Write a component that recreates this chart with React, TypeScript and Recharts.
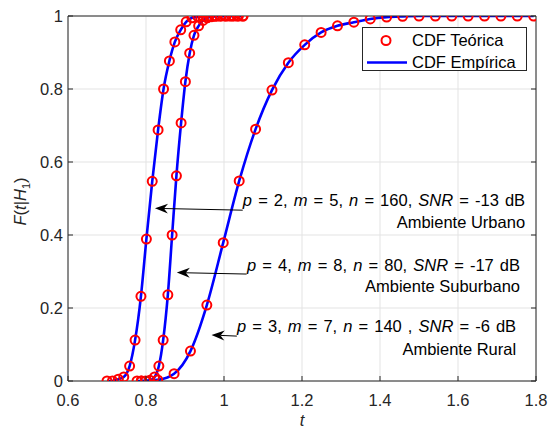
import React from 'react'
import {
  ComposedChart,
  Line,
  Scatter,
  XAxis,
  YAxis,
  CartesianGrid,
  ReferenceLine,
  ReferenceDot,
} from 'recharts'

const FONT = '"Liberation Sans", Arial, Helvetica, sans-serif'
const AXIS = '#262626'
const FS = 16.5

const xTicks = [0.6, 0.8, 1.0, 1.2, 1.4, 1.6, 1.8]
const yTicks = [0, 0.2, 0.4, 0.6, 0.8, 1]

// Ambiente Urbano: p = 2, m = 5, n = 160, SNR = -13 dB
const tUrbano = [0.700, 0.714, 0.729, 0.743, 0.758, 0.772, 0.787, 0.801, 0.816, 0.831, 0.845, 0.860, 0.874, 0.889, 0.903, 0.918, 0.933, 0.947, 0.962, 0.976, 0.991, 1.005, 1.020, 1.034, 1.049]
const fUrbano = [0, 0, 0.005, 0.011, 0.041, 0.112, 0.232, 0.389, 0.547, 0.688, 0.800, 0.877, 0.929, 0.962, 0.984, 0.995, 0.998, 0.999, 1, 1, 1, 1, 1, 1, 1]

// Ambiente Suburbano: p = 4, m = 8, n = 80, SNR = -17 dB
const tSuburbano = [0.777, 0.788, 0.799, 0.810, 0.822, 0.833, 0.844, 0.856, 0.867, 0.878, 0.890, 0.901, 0.912, 0.923, 0.935, 0.946, 0.957, 0.969, 0.980, 0.991, 1.003, 1.014, 1.025, 1.037, 1.048]
const fSuburbano = [0, 0, 0, 0.002, 0.011, 0.041, 0.112, 0.236, 0.400, 0.562, 0.707, 0.820, 0.898, 0.947, 0.973, 0.988, 0.995, 0.998, 0.999, 1, 1, 1, 1, 1, 1]

// Ambiente Rural: p = 3, m = 7, n = 140, SNR = -6 dB
const tRural = [0.788, 0.830, 0.872, 0.914, 0.956, 0.998, 1.039, 1.081, 1.123, 1.165, 1.207, 1.249, 1.291, 1.333, 1.375, 1.417, 1.458, 1.500, 1.542, 1.584, 1.626, 1.668, 1.710, 1.752, 1.794]
const fRural = [0, 0.003, 0.020, 0.082, 0.208, 0.379, 0.548, 0.690, 0.797, 0.872, 0.921, 0.955, 0.973, 0.983, 0.992, 0.997, 0.999, 1, 1, 1, 1, 1, 1, 1, 1]

const toPoints = (ts: number[], fs: number[]) => ts.map((t, i) => ({ t, f: fs[i] }))
const curves = [
  toPoints(tUrbano, fUrbano),
  toPoints(tSuburbano, fSuburbano),
  toPoints(tRural, fRural),
]

// annotations: arrow tail -> head, text anchored at its right edge
const arrows = [
  { from: { x: 1.048, y: 0.468 }, to: { x: 0.823, y: 0.473 } },
  { from: { x: 1.058, y: 0.293 }, to: { x: 0.879, y: 0.297 } },
  { from: { x: 1.033, y: 0.123 }, to: { x: 0.968, y: 0.126 } },
]
const notes = [
  { x: 1.772, y: 0.496, p: '2', m: '5', n: '160', snr: '-13', env: 'Ambiente Urbano', y2: 0.436 },
  { x: 1.759, y: 0.318, p: '4', m: '8', n: '80', snr: '-17', env: 'Ambiente Suburbano', y2: 0.259 },
  { x: 1.749, y: 0.149, p: '3', m: '7', n: '140 ', snr: '-6', env: 'Ambiente Rural', y2: 0.088 },
]

const BottomTick = (props: any) => {
  const { x, y, payload } = props
  return (
    <g>
      <line x1={x} y1={y} x2={x} y2={y - 5} stroke={AXIS} />
      <text x={x} y={y + 19} dy="0.35em" textAnchor="middle" fill={AXIS} fontSize={FS} fontFamily={FONT}>
        {payload.value}
      </text>
    </g>
  )
}

const LeftTick = (props: any) => {
  const { x, y, payload } = props
  return (
    <g>
      <line x1={x} y1={y} x2={x + 5} y2={y} stroke={AXIS} />
      <text x={x - 5} y={y} dy="0.35em" textAnchor="end" fill={AXIS} fontSize={FS} fontFamily={FONT}>
        {payload.value}
      </text>
    </g>
  )
}

const TopTick = (props: any) => {
  const { x, y } = props
  return <line x1={x} y1={y} x2={x} y2={y + 5} stroke={AXIS} />
}

const RightTick = (props: any) => {
  const { x, y } = props
  return <line x1={x} y1={y} x2={x - 5} y2={y} stroke={AXIS} />
}

const Arrow = (props: any) => {
  const { x1, y1, x2, y2 } = props
  const dx = x2 - x1
  const dy = y2 - y1
  const len = Math.sqrt(dx * dx + dy * dy) || 1
  const ux = dx / len
  const uy = dy / len
  const nx = -uy
  const ny = ux
  const L = 13
  const W = 5
  const N = 9
  const pts = [
    [x2, y2],
    [x2 - L * ux + W * nx, y2 - L * uy + W * ny],
    [x2 - N * ux, y2 - N * uy],
    [x2 - L * ux - W * nx, y2 - L * uy - W * ny],
  ]
  return (
    <g>
      <line x1={x1} y1={y1} x2={x2 - N * ux} y2={y2 - N * uy} stroke="#000" strokeWidth={1} />
      <polygon points={pts.map((p) => p.join(',')).join(' ')} fill="#000" />
    </g>
  )
}

const NoteText = ({ cx, cy, note }: any) => (
  <text x={cx} y={cy} dy="0.35em" textAnchor="end" fill="#000" fontSize={FS} fontFamily={FONT} wordSpacing={1.5}>
    <tspan fontStyle="italic">p</tspan>
    {` = ${note.p}, `}
    <tspan fontStyle="italic">m</tspan>
    {` = ${note.m}, `}
    <tspan fontStyle="italic">n</tspan>
    {` = ${note.n}, `}
    <tspan fontStyle="italic">SNR</tspan>
    {` = ${note.snr} dB`}
  </text>
)

const EnvText = ({ cx, cy, text }: any) => (
  <text x={cx} y={cy} dy="0.35em" textAnchor="end" fill="#000" fontSize={FS} fontFamily={FONT}>
    {text}
  </text>
)

const Ring = (props: any) => (
  <circle cx={props.cx} cy={props.cy} r={4.5} fill="none" stroke="#ff0000" strokeWidth={2} />
)

const XLabel = (props: any) => {
  const { x, width } = props.viewBox
  return (
    <text x={x + width / 2} y={420} dy="0.35em" textAnchor="middle" fill={AXIS} fontSize={FS} fontStyle="italic" fontFamily={FONT}>
      t
    </text>
  )
}

const YLabel = (props: any) => {
  const { y, height } = props.viewBox
  const cx = 20
  const cy = y + height / 2 + 3
  return (
    <text
      x={cx}
      y={cy}
      dy="0.35em"
      textAnchor="middle"
      fill={AXIS}
      fontSize={FS}
      fontFamily={FONT}
      transform={`rotate(-90, ${cx}, ${cy})`}
    >
      <tspan fontStyle="italic">F</tspan>
      (<tspan fontStyle="italic">t</tspan>|<tspan fontStyle="italic">H</tspan>
      <tspan fontSize={11} dy={4}>1</tspan>
      <tspan dy={-4}>)</tspan>
    </text>
  )
}

const LegendBox = () => (
  <div
    style={{
      position: 'absolute',
      left: 362,
      top: 27,
      width: 163,
      height: 42,
      background: '#fff',
      border: `1px solid ${AXIS}`,
    }}
  >
    <svg width={163} height={42} style={{ display: 'block' }}>
      <circle cx={23} cy={12.5} r={4.5} fill="none" stroke="#ff0000" strokeWidth={2} />
      <text x={49} y={12.5} dy="0.35em" fontSize={FS} fontFamily={FONT} fill="#000">
        CDF Teórica
      </text>
      <line x1={4} y1={34.5} x2={44} y2={34.5} stroke="#0000ff" strokeWidth={2.6} />
      <text x={49} y={34.5} dy="0.35em" fontSize={FS} fontFamily={FONT} fill="#000">
        CDF Empírica
      </text>
    </svg>
  </div>
)

export default function App() {
  return (
    <div style={{ position: 'absolute', left: 0, top: 0, width: 549, height: 431, background: '#fff' }}>
      <ComposedChart width={549} height={431} margin={{ top: 10, right: 7, bottom: 20, left: 28 }}>
        <CartesianGrid stroke="#e3e3e3" strokeWidth={1} />
        <XAxis
          dataKey="t"
          type="number"
          domain={[0.6, 1.8]}
          ticks={xTicks}
          allowDataOverflow
          height={30}
          tickSize={0}
          tickMargin={0}
          tick={<BottomTick />}
          axisLine={{ stroke: AXIS }}
          label={<XLabel />}
        />
        <XAxis
          xAxisId="top"
          orientation="top"
          type="number"
          domain={[0.6, 1.8]}
          ticks={xTicks}
          allowDataOverflow
          height={6}
          tickSize={0}
          tickMargin={0}
          tick={<TopTick />}
          axisLine={{ stroke: AXIS }}
        />
        <YAxis
          type="number"
          domain={[0, 1]}
          ticks={yTicks}
          allowDataOverflow
          width={40}
          tickSize={0}
          tickMargin={0}
          tick={<LeftTick />}
          axisLine={{ stroke: AXIS }}
          label={<YLabel />}
        />
        <YAxis
          yAxisId="right"
          orientation="right"
          type="number"
          domain={[0, 1]}
          ticks={yTicks}
          allowDataOverflow
          width={6}
          tickSize={0}
          tickMargin={0}
          tick={<RightTick />}
          axisLine={{ stroke: AXIS }}
        />
        {curves.map((pts, i) => (
          <Scatter key={`s${i}`} data={pts} dataKey="f" shape={<Ring />} isAnimationActive={false} />
        ))}
        {curves.map((pts, i) => (
          <Line
            key={`l${i}`}
            data={pts}
            dataKey="f"
            type="monotone"
            stroke="#0000ff"
            strokeWidth={2.6}
            dot={false}
            activeDot={false}
            isAnimationActive={false}
          />
        ))}
        {arrows.map((a, i) => (
          <ReferenceLine key={`a${i}`} segment={[a.from, a.to]} shape={<Arrow />} />
        ))}
        {notes.map((n, i) => (
          <ReferenceDot key={`n${i}`} x={n.x} y={n.y} r={0} shape={(p: any) => <NoteText {...p} note={n} />} />
        ))}
        {notes.map((n, i) => (
          <ReferenceDot key={`e${i}`} x={n.x} y={n.y2} r={0} shape={(p: any) => <EnvText {...p} text={n.env} />} />
        ))}
      </ComposedChart>
      <LegendBox />
    </div>
  )
}
